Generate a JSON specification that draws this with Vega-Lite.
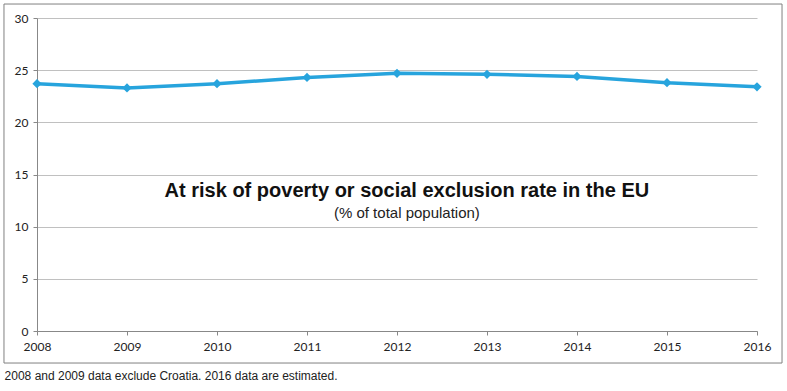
{
  "$schema": "https://vega.github.io/schema/vega-lite/v6.json",
  "width": 720,
  "height": 313,
  "autosize": {"type": "none"},
  "padding": {"left": 37, "top": 18, "right": 30, "bottom": 60},
  "background": "white",
  "config": {"view": {"stroke": null}},
  "datasets": {
    "rate": [
      {"year": 2008, "value": 23.7},
      {"year": 2009, "value": 23.3},
      {"year": 2010, "value": 23.7},
      {"year": 2011, "value": 24.3},
      {"year": 2012, "value": 24.7},
      {"year": 2013, "value": 24.6},
      {"year": 2014, "value": 24.4},
      {"year": 2015, "value": 23.8},
      {"year": 2016, "value": 23.4}
    ],
    "one": [{}]
  },
  "layer": [
    {
      "data": {"name": "one"},
      "mark": {"type": "rect", "filled": false, "stroke": "#808080", "strokeWidth": 1},
      "encoding": {
        "x": {"datum": 2007.633, "type": "quantitative", "title": null},
        "x2": {"datum": 2016.278},
        "y": {"datum": 31.34, "type": "quantitative", "title": null},
        "y2": {"datum": -3.07}
      }
    },
    {
      "data": {"name": "rate"},
      "mark": {"type": "line", "color": "#27a4dd", "strokeWidth": 3.5, "point": {"shape": "diamond", "size": 85, "filled": true, "color": "#27a4dd"}},
      "encoding": {
        "x": {
          "field": "year", "type": "quantitative",
          "scale": {"domain": [2008, 2016], "nice": false, "zero": false},
          "axis": {
            "values": [2008, 2009, 2010, 2011, 2012, 2013, 2014, 2015, 2016],
            "format": "d", "title": null, "grid": false,
            "labelFlush": false, "labelOverlap": false, "labelBound": false,
            "labelFont": "Lato", "labelFontSize": 12, "labelColor": "#222222",
            "labelPadding": 6, "tickSize": 4, "tickColor": "#888888",
            "domainColor": "#888888"
          }
        },
        "y": {
          "field": "value", "type": "quantitative",
          "scale": {"domain": [0, 30], "nice": false, "zero": true},
          "axis": {
            "values": [0, 5, 10, 15, 20, 25, 30],
            "title": null, "grid": true, "gridColor": "#c0c0c0",
            "labelFont": "Lato", "labelFontSize": 12, "labelColor": "#222222",
            "labelPadding": 5, "tickSize": 4, "tickColor": "#888888",
            "domainColor": "#888888", "labelFlush": false
          }
        }
      }
    },
    {
      "data": {"name": "one"},
      "mark": {"type": "text", "font": "Liberation Sans", "fontSize": 20, "fontWeight": "bold", "color": "#111111", "align": "center", "baseline": "middle"},
      "encoding": {
        "x": {"datum": 2012.11, "type": "quantitative", "title": null},
        "y": {"datum": 13.42, "type": "quantitative", "title": null},
        "text": {"value": "At risk of poverty or social exclusion rate in the EU"}
      }
    },
    {
      "data": {"name": "one"},
      "mark": {"type": "text", "font": "Liberation Sans", "fontSize": 15, "color": "#222222", "align": "center", "baseline": "middle"},
      "encoding": {
        "x": {"datum": 2012.11, "type": "quantitative", "title": null},
        "y": {"datum": 11.31, "type": "quantitative", "title": null},
        "text": {"value": "(% of total population)"}
      }
    },
    {
      "data": {"name": "one"},
      "mark": {"type": "text", "font": "Liberation Sans", "fontSize": 12, "color": "#222222", "align": "left", "baseline": "middle"},
      "encoding": {
        "x": {"datum": 2007.64, "type": "quantitative", "title": null},
        "y": {"datum": -4.31, "type": "quantitative", "title": null},
        "text": {"value": "2008 and 2009 data exclude Croatia. 2016 data are estimated."}
      }
    }
  ]
}
